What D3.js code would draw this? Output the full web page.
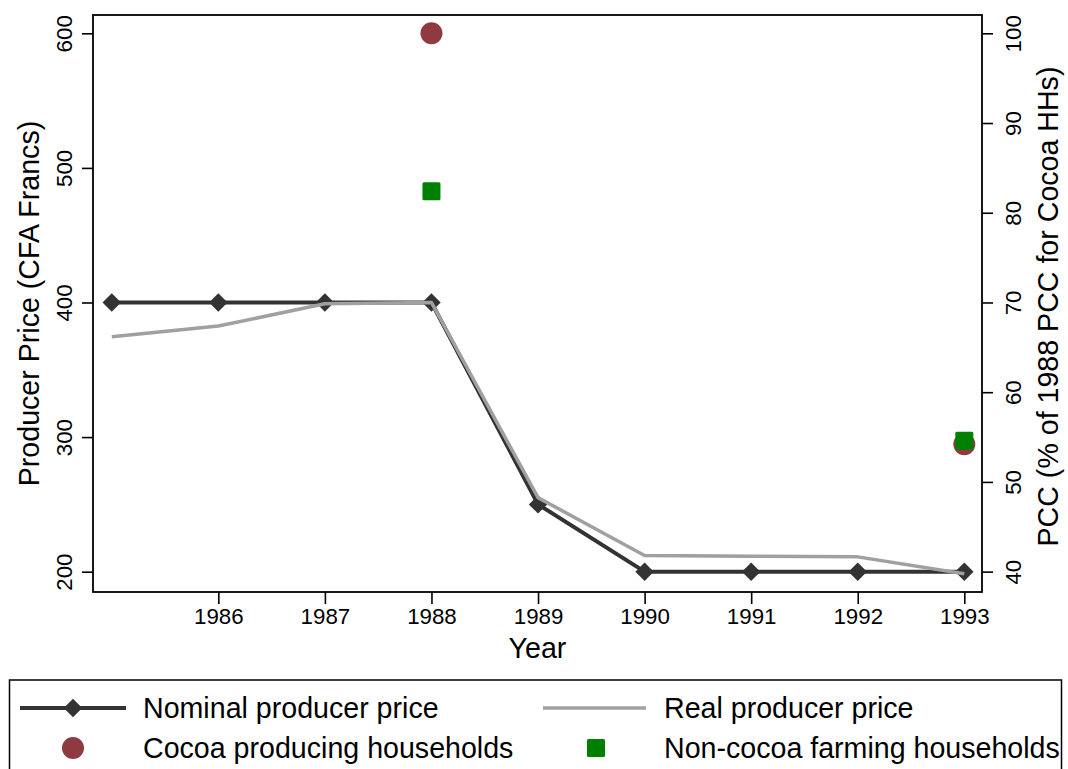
<!DOCTYPE html>
<html>
<head>
<meta charset="utf-8">
<script src="https://cdn.jsdelivr.net/npm/d3@7"></script>
<style>
  html, body { margin: 0; padding: 0; background: #fff; }
  svg { display: block; font-family: "Liberation Sans", Arial, sans-serif; }
</style>
</head>
<body>
<svg id="chart" width="1068" height="769"></svg>
<script>
// ---- data ----
const years = [1985, 1986, 1987, 1988, 1989, 1990, 1991, 1992, 1993];
const nominalPrice = [400, 400, 400, 400, 250, 200, 200, 200, 200];
const realPrice = [374.5, 382.5, 399, 400, 255, 212, 211.5, 211, 198.5];
const pccYears = [1988, 1993];
const cocoaHH = [100, 54.2];
const nonCocoaHH = [82.4, 54.6];
const xTicks = [1986, 1987, 1988, 1989, 1990, 1991, 1992, 1993];
const leftTicks = [200, 300, 400, 500, 600];
const rightTicks = [40, 50, 60, 70, 80, 90, 100];
const legendLabels = ["Nominal producer price", "Real producer price", "Cocoa producing households", "Non-cocoa farming households"];

// ---- layout ----
const svg = d3.select("#chart");
const L = 93, R = 982, T = 15, B = 592;
const x = d3.scaleLinear().domain([1984.824, 1993.166]).range([L, R]);
const yL = d3.scaleLinear().domain([184.9, 613.6]).range([B, T]);
const yR = d3.scaleLinear().domain([37.73, 102.04]).range([B, T]);

const nomColor = "#333333", realColor = "#a0a0a0", cocoaColor = "#8f3a40", nonColor = "#008000";
const tickFont = 22.3, titleFont = 28.6;

// frame
svg.append("rect").attr("x", L).attr("y", T).attr("width", R - L).attr("height", B - T)
  .attr("fill", "none").attr("stroke", "#000").attr("stroke-width", 1.8);

// x axis
const xAxis = svg.append("g").attr("transform", `translate(0,${B})`)
  .call(d3.axisBottom(x).tickValues(xTicks).tickFormat(d3.format("d")).tickSize(12).tickPadding(4));
xAxis.select(".domain").remove();
xAxis.selectAll(".tick line").attr("stroke", "#000").attr("stroke-width", 1.6);
xAxis.selectAll(".tick text").attr("font-size", tickFont).attr("fill", "#000")
  .attr("font-family", "Liberation Sans, Arial, sans-serif");

// left axis
const yAxisL = svg.append("g").attr("transform", `translate(${L},0)`)
  .call(d3.axisLeft(yL).tickValues(leftTicks).tickSize(11).tickFormat(d3.format("d")));
yAxisL.select(".domain").remove();
yAxisL.selectAll(".tick line").attr("stroke", "#000").attr("stroke-width", 1.6);
yAxisL.selectAll(".tick text")
  .attr("font-size", tickFont).attr("fill", "#000").attr("font-family", "Liberation Sans, Arial, sans-serif")
  .attr("x", 0).attr("dy", 0).attr("text-anchor", "middle")
  .attr("transform", "translate(-21,0) rotate(-90)");

// right axis
const yAxisR = svg.append("g").attr("transform", `translate(${R},0)`)
  .call(d3.axisRight(yR).tickValues(rightTicks).tickSize(11).tickFormat(d3.format("d")));
yAxisR.select(".domain").remove();
yAxisR.selectAll(".tick line").attr("stroke", "#000").attr("stroke-width", 1.6);
yAxisR.selectAll(".tick text")
  .attr("font-size", tickFont).attr("fill", "#000").attr("font-family", "Liberation Sans, Arial, sans-serif")
  .attr("x", 0).attr("dy", 0).attr("text-anchor", "middle")
  .attr("transform", "translate(39,0) rotate(-90)");

// axis titles
svg.append("text").attr("x", (L + R) / 2 + 0).attr("y", 658).attr("text-anchor", "middle")
  .attr("font-size", titleFont).text("Year");
svg.append("text").attr("transform", `translate(39,${(T + B) / 2}) rotate(-90)`).attr("text-anchor", "middle")
  .attr("font-size", titleFont).text("Producer Price (CFA Francs)");
svg.append("text").attr("transform", `translate(1058,${(T + B) / 2 + 3}) rotate(-90)`).attr("text-anchor", "middle")
  .attr("font-size", titleFont).text("PCC (% of 1988 PCC for Cocoa HHs)");

// lines
const line = d3.line().x((d, i) => x(years[i])).y(d => yL(d));
const diamond = d3.symbol().type(d3.symbolSquare).size(170);

svg.append("path").datum(nominalPrice).attr("d", line).attr("fill", "none")
  .attr("stroke", nomColor).attr("stroke-width", 4).attr("stroke-linejoin", "round");
svg.append("g").selectAll("path").data(nominalPrice).join("path")
  .attr("d", diamond).attr("fill", nomColor)
  .attr("transform", (d, i) => `translate(${x(years[i])},${yL(d)}) rotate(45)`);

svg.append("path").datum(realPrice).attr("d", line).attr("fill", "none")
  .attr("stroke", realColor).attr("stroke-width", 3.5).attr("stroke-linejoin", "round");

// PCC points
svg.append("g").selectAll("circle").data(cocoaHH).join("circle")
  .attr("cx", (d, i) => x(pccYears[i])).attr("cy", d => yR(d)).attr("r", 11).attr("fill", cocoaColor);
svg.append("g").selectAll("rect").data(nonCocoaHH).join("rect")
  .attr("x", (d, i) => x(pccYears[i]) - 9).attr("y", d => yR(d) - 9)
  .attr("width", 18).attr("height", 18).attr("rx", 1.5).attr("fill", nonColor);

// legend
const lg = svg.append("g");
lg.append("rect").attr("x", 9.5).attr("y", 680).attr("width", 1052).attr("height", 110)
  .attr("fill", "#fff").attr("stroke", "#000").attr("stroke-width", 1.5);
const row1 = 708, row2 = 748;
// nominal
lg.append("line").attr("x1", 20).attr("x2", 126).attr("y1", row1).attr("y2", row1)
  .attr("stroke", nomColor).attr("stroke-width", 4);
lg.append("path").attr("d", diamond).attr("fill", nomColor)
  .attr("transform", `translate(73,${row1}) rotate(45)`);
// real
lg.append("line").attr("x1", 543).attr("x2", 646).attr("y1", row1).attr("y2", row1)
  .attr("stroke", realColor).attr("stroke-width", 3.5);
// cocoa
lg.append("circle").attr("cx", 73).attr("cy", row2).attr("r", 11).attr("fill", cocoaColor);
// non-cocoa
lg.append("rect").attr("x", 587).attr("y", row2 - 9).attr("width", 18).attr("height", 18).attr("rx", 1.5).attr("fill", nonColor);

const textX = [143, 664, 143, 664];
const textY = [row1 + 10, row1 + 10, row2 + 10, row2 + 10];
lg.selectAll("text.lbl").data(legendLabels).join("text").attr("class", "lbl")
  .attr("x", (d, i) => textX[i]).attr("y", (d, i) => textY[i])
  .attr("font-size", titleFont).text(d => d);
</script>
</body>
</html>
